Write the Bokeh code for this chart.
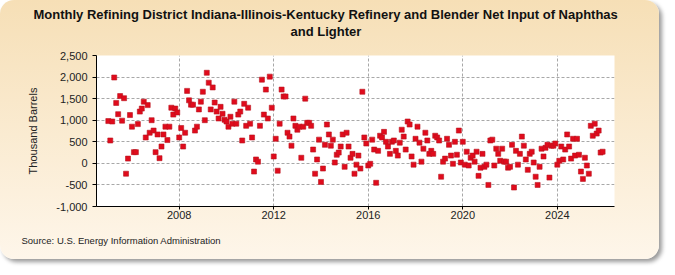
import numpy as np
from bokeh.plotting import figure
from bokeh.models import FixedTicker, NumeralTickFormatter, Range1d, Title, ColumnDataSource
from bokeh.embed import file_html
from bokeh.resources import INLINE

start_year = 2005
v_2005_2008 = [980, 530, 970, 1990, 1400, 1140, 1560, 990, 1510, -240, 110, 1120,
               850, 260, 260, 910, 1200, 1270, 1430, 600, 1350, 710, 1000, 760,
               260, 670, 120, 390, 670, 850, 540, 850, 1290, 1130, 1270, 1180,
               600, 820, 390, 710, 1680, 1460, 1360, 1360, 760, 850, 1250, 1430]
v_2009_2012 = [1660, 1000, 2100, 1870, 1250, 1760, 1410, 1200, 1040, 1310, 1150, 1010,
               970, 850, 1080, 920, 1430, 920, 1130, 1200, 530, 1380, 870, 1290,
               920, 600, -190, 90, 40, 870, 1940, 1130, 1710, 1040, 2010, 1290,
               160, 570, -170, 920, 1710, 1550, 1550, 710, 620, 410, 1040, 870]
v_2013_2016 = [780, 850, 130, 850, 1500, 940, 940, 870, 320, -240, 90, 550,
               -430, -120, 430, 900, 670, 410, 550, 20, 200, 250, 390, 670,
               -80, 710, 390, 130, 220, -240, -30, 180, -120, 1660, 600, 460,
               -50, -10, 550, 320, -450, 290, 640, 600, 730, 500, 390, 220]
v_2017_2020 = [500, 530, 290, 180, 480, 780, 620, 320, 970, 900, 160, -30,
               570, 850, 480, 40, 340, 710, 530, 220, 290, 220, 640, 600,
               530, -310, 40, 110, 570, 430, 180, -10, 500, 200, 760, 20,
               500, -30, 270, -50, 130, 180, 40, 270, -290, -100, 220, -80]
v_2021_2025 = [-30, -500, 530, 550, -50, 340, 220, 60, 340, 40, 40, -100,
               -80, 430, -560, 290, -30, 220, 620, 410, 90, -150, 220, 270,
               20, -310, -500, -80, 340, 160, 360, 430, -330, 410, 410, 460,
               -30, 60, 390, 90, 320, 670, 390, 110, 570, 180, 570, 200,
               -190, -360, 130, -50, -240, 870, 640, 920, 690, 760, 250, 270]

values = v_2005_2008 + v_2009_2012 + v_2013_2016 + v_2017_2020 + v_2021_2025
months = np.arange(len(values))
src = ColumnDataSource(dict(x=start_year + months / 12.0, y=values))

year_ticks = [2008, 2012, 2016, 2020, 2024]
y_ticks = [-1000, -500, 0, 500, 1000, 1500, 2000, 2500]

title_line1 = "Monthly Refining District Indiana-Illinois-Kentucky Refinery and Blender Net Input of Naphthas"
title_line2 = "and Lighter"
source_note = "Source: U.S. Energy Information Administration"

p = figure(width=659, height=259, output_backend="svg", toolbar_location=None,
           x_range=Range1d(2004.5, 2026.42), y_range=Range1d(-1000, 2500),
           min_border_left=96, min_border_right=45, min_border_top=55, min_border_bottom=53,
           background_fill_color="white", border_fill_color=None, outline_line_color=None)
p.styles = {"background": "linear-gradient(#F6DFB6, #FEF6EA)", "border-radius": "14px",
            "box-shadow": "3px 3px 4px #9a9a9a"}

p.scatter("x", "y", source=src, marker="square", size=5, fill_color="#E00B1C",
          line_color="#B8141F", line_width=0.6)

font = "Liberation Sans"
p.xaxis.ticker = FixedTicker(ticks=year_ticks)
p.yaxis.ticker = FixedTicker(ticks=y_ticks)
p.yaxis.formatter = NumeralTickFormatter(format="0,0")
for ax in (p.xaxis[0], p.yaxis[0]):
    ax.axis_line_color = "black"
    ax.axis_line_width = 1
    ax.major_tick_line_color = "black"
    ax.major_tick_in = 0
    ax.minor_tick_line_color = None
    ax.major_label_text_font = font
    ax.major_label_text_font_size = "11px"
    ax.major_label_text_color = "#222222"
p.yaxis.major_tick_out = 4
p.yaxis.major_label_standoff = 5
p.xaxis.major_tick_out = 3
p.xaxis.major_label_standoff = 1
p.yaxis.axis_label = "Thousand Barrels"
p.yaxis.axis_label_text_font = font
p.yaxis.axis_label_text_font_size = "11px"
p.yaxis.axis_label_text_font_style = "normal"
p.yaxis.axis_label_text_color = "#222222"
p.yaxis.axis_label_standoff = 14

for g in (p.xgrid[0], p.ygrid[0]):
    g.grid_line_color = "#A8A8A8"
    g.grid_line_dash = "3 2"
    g.grid_line_width = 1

p.add_layout(Title(text=source_note, align="left",
                   text_font=font, text_font_size="9.5px", text_font_style="normal",
                   text_color="#222222", offset=-75, standoff=22), "below")

title_style = dict(align="left", text_font=font, text_font_size="13px",
                   text_font_style="bold", text_color="#111111", standoff=0)
# spacer between the plot frame and the two title lines
p.add_layout(Title(text="\u00a0", **title_style), "above")
p.add_layout(Title(text=title_line2, offset=194, **title_style), "above")
p.add_layout(Title(text=title_line1, offset=-63, **title_style), "above")

open("out.html", "w").write(file_html(p, INLINE))
